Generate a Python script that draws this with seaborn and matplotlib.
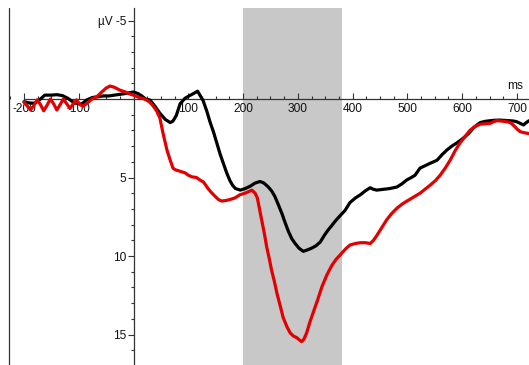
import matplotlib
matplotlib.use("Agg")
import matplotlib.pyplot as plt
from matplotlib.ticker import MultipleLocator, FixedLocator
import numpy as np
import pandas as pd
import seaborn as sns

# Grand-average ERP waveforms (time in ms, amplitude in µV; negative plotted up)
t_black = [-200, -190, -180, -172, -162, -150, -140, -130, -120, -108, -95, -85, -75, -65,
           -55, -45, -35, -25, -15, -5, 0, 8, 15, 22, 30, 40, 48, 58, 67, 72, 78, 85, 94,
           104, 112, 117, 122, 127, 134, 140, 146, 152, 158, 164, 170, 176, 181, 186, 195,
           204, 213, 222, 231, 238, 246, 252, 258, 264, 271, 277, 283, 289, 295, 302, 310,
           318, 325, 333, 341, 348, 355, 362, 370, 378, 386, 395, 405, 414, 423, 432, 438,
           444, 456, 468, 481, 490, 499, 507, 514, 523, 532, 541, 554, 563, 572, 581, 590,
           598, 605, 613, 620, 627, 633, 642, 651, 660, 669, 678, 687, 694, 700, 706, 712,
           717, 722]
uv_black = [0.17, 0.25, 0.27, 0.06, -0.25, -0.25, -0.28, -0.22, -0.05, 0.25, 0.32, 0.05,
            -0.1, -0.15, -0.2, -0.2, -0.25, -0.3, -0.35, -0.42, -0.45, -0.35, -0.2, 0.0,
            0.06, 0.5, 0.9, 1.3, 1.5, 1.4, 1.05, 0.3, -0.05, -0.25, -0.4, -0.5, -0.2, 0.1,
            0.8, 1.5, 2.1, 2.8, 3.5, 4.1, 4.7, 5.2, 5.5, 5.7, 5.8, 5.7, 5.55, 5.35, 5.25,
            5.35, 5.6, 5.85, 6.2, 6.7, 7.3, 7.9, 8.45, 8.9, 9.2, 9.5, 9.7, 9.6, 9.5, 9.35,
            9.1, 8.7, 8.35, 8.05, 7.7, 7.4, 7.1, 6.6, 6.3, 6.1, 5.85, 5.65, 5.75, 5.8, 5.75,
            5.7, 5.6, 5.4, 5.15, 5.0, 4.85, 4.4, 4.25, 4.1, 3.9, 3.55, 3.25, 3.0, 2.8, 2.6,
            2.4, 2.15, 1.86, 1.65, 1.5, 1.42, 1.38, 1.35, 1.34, 1.36, 1.38, 1.4, 1.45, 1.55,
            1.65, 1.5, 1.38]

t_red = [-200, -194, -188, -182, -176, -170, -164, -158, -152, -146, -140, -134, -128, -122,
         -116, -110, -104, -98, -92, -85, -76, -67, -58, -50, -43, -35, -25, -15, -5, 0,
         10, 20, 28, 35, 42, 48, 54, 61, 67, 72, 76, 85, 94, 100, 106, 115, 121, 128, 136,
         142, 149, 155, 161, 170, 176, 185, 194, 203, 210, 216, 222, 226, 230, 234, 239,
         243, 248, 252, 257, 262, 268, 273, 280, 286, 292, 298, 303, 307, 311, 316, 322,
         328, 336, 344, 353, 362, 370, 378, 387, 395, 405, 414, 423, 432, 438, 444, 453,
         462, 471, 481, 490, 499, 511, 523, 532, 541, 551, 560, 569, 578, 587, 596, 605,
         614, 623, 633, 642, 651, 657, 663, 672, 682, 688, 693, 700, 706, 714, 722]
uv_red = [0.2, 0.45, 0.7, 0.4, 0.05, 0.35, 0.75, 0.4, 0.0, 0.3, 0.7, 0.35, 0.0, 0.3, 0.6,
          0.3, 0.05, 0.35, 0.45, 0.27, 0.0, -0.15, -0.45, -0.7, -0.83, -0.75, -0.57, -0.45,
          -0.3, -0.25, -0.1, 0.0, 0.15, 0.4, 0.75, 1.2, 2.2, 3.25, 3.9, 4.4, 4.5, 4.6, 4.7,
          4.85, 4.95, 5.0, 5.15, 5.3, 5.7, 5.95, 6.2, 6.4, 6.5, 6.45, 6.4, 6.3, 6.1, 6.0,
          5.9, 5.8, 6.0, 6.3, 7.0, 7.7, 8.6, 9.4, 10.2, 10.9, 11.6, 12.4, 13.2, 13.9, 14.5,
          14.9, 15.1, 15.2, 15.35, 15.45, 15.3, 14.9, 14.2, 13.6, 12.8, 11.95, 11.2, 10.6,
          10.2, 9.9, 9.55, 9.3, 9.2, 9.15, 9.15, 9.2, 9.0, 8.7, 8.2, 7.7, 7.3, 6.95, 6.7,
          6.5, 6.25, 6.0, 5.75, 5.5, 5.2, 4.84, 4.4, 3.9, 3.3, 2.8, 2.4, 2.0, 1.75, 1.6,
          1.58, 1.55, 1.45, 1.38, 1.4, 1.45, 1.5, 1.65, 1.9, 2.08, 2.15, 2.2]

x_tick_values = [-200, -100, 100, 200, 300, 400, 500, 600, 700]
x_tick_labels = ["-200", "-100", "100", "200", "300", "400", "500", "600", "700"]
y_tick_values = [-5, 5, 10, 15]
y_tick_labels = ["µV -5", "5", "10", "15"]
window = (200, 380)

df = pd.concat([
    pd.DataFrame({"ms": t_black, "uv": uv_black, "cond": "black"}),
    pd.DataFrame({"ms": t_red, "uv": uv_red, "cond": "red"}),
], ignore_index=True)

sns.set_style("white")
plt.rcParams["font.family"] = ["Liberation Sans Narrow", "Liberation Sans", "DejaVu Sans"]
plt.rcParams["font.size"] = 8.6

fig = plt.figure(figsize=(5.29, 3.65), dpi=100)
ax = fig.add_axes([9 / 529, 0.0, 1 - 9 / 529, 1 - 8 / 365])

xlim = (-227.4, 722)
ax.set_xlim(*xlim)
ax.set_ylim(16.94, -5.8)

ax.axvspan(*window, color="#c8c8c8", lw=0, zorder=0)

sns.lineplot(data=df, x="ms", y="uv", hue="cond",
             palette={"black": "#000000", "red": "#e30000"},
             estimator=None, sort=False, legend=False, linewidth=2.3, ax=ax, zorder=3)
ax.set_xlabel("")
ax.set_ylabel("")

axis_col = "#333333"
for side in ("top", "right"):
    ax.spines[side].set_visible(False)
ax.spines["left"].set_position(("data", 0))
ax.spines["bottom"].set_position(("data", 0))
ax.spines["bottom"].set_bounds(-200, xlim[1])
for side in ("left", "bottom"):
    ax.spines[side].set_color(axis_col)
    ax.spines[side].set_linewidth(0.9)
    ax.spines[side].set_zorder(2)

# outer frame line on the left
ax.axvline(xlim[0] + 0.6, color=axis_col, lw=0.9, clip_on=False)

ax.xaxis.set_major_locator(FixedLocator(x_tick_values))
ax.set_xticklabels(x_tick_labels)
ax.xaxis.set_minor_locator(MultipleLocator(25))
ax.yaxis.set_major_locator(FixedLocator(y_tick_values))
ax.set_yticklabels(y_tick_labels)
ax.yaxis.set_minor_locator(MultipleLocator(1))

ax.tick_params(axis="x", which="both", direction="in", color=axis_col, width=0.8,
               pad=3, labelsize=8.6, labelcolor="#111111", bottom=True)
ax.tick_params(axis="x", which="major", length=4)
ax.tick_params(axis="x", which="minor", length=2.5)
ax.tick_params(axis="y", which="both", direction="out", color=axis_col, width=0.8,
               pad=1.5, labelsize=8.6, labelcolor="#111111", left=True)
ax.tick_params(axis="y", which="major", length=4)
ax.tick_params(axis="y", which="minor", length=2.5)

ax.text(697, -0.45, "ms", ha="center", va="bottom", fontsize=8.6, color="#111111")

ax.set_facecolor("white")
fig.savefig("out.png", dpi=100, facecolor="white")
